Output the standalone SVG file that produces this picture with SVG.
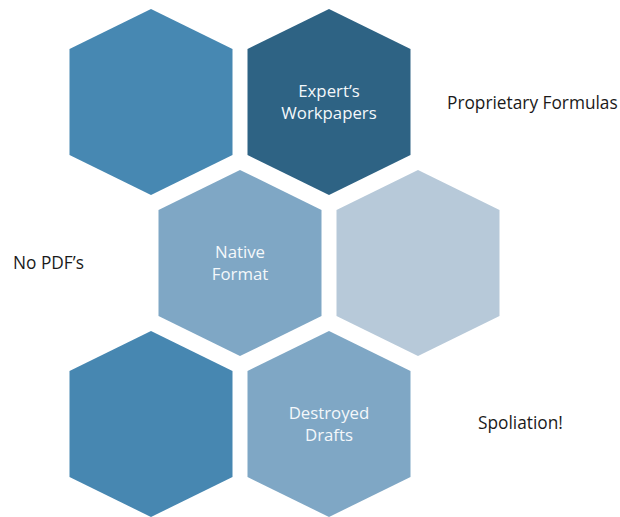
<svg xmlns="http://www.w3.org/2000/svg" width="620" height="517" viewBox="0 0 620 517">
<style>
.lbl{font-family:"Open Sans","Liberation Sans",sans-serif;font-size:16.8px;fill:#f4f8fb;text-anchor:middle}
.side{font-family:"Open Sans","Liberation Sans",sans-serif;font-size:17.3px;fill:#1a1a1a}
</style>
<defs>
<path id="hex" d="M0,0 L81.5,40 L81.5,146 L0,186 L-81.5,146 L-81.5,40 Z"/>
</defs>
<rect width="620" height="517" fill="#ffffff"/>
<g id="hex-top-left"><use href="#hex" x="151" y="9" fill="#4788b2"/></g>
<g id="hex-experts-workpapers"><use href="#hex" x="329" y="9" fill="#2e6384"/>
<text class="lbl" x="329" y="97">Expert’s</text><text class="lbl" x="329" y="119">Workpapers</text></g>
<g id="hex-native-format"><use href="#hex" x="240" y="170" fill="#7fa7c5"/>
<text class="lbl" x="240" y="258">Native</text><text class="lbl" x="240" y="280">Format</text></g>
<g id="hex-mid-right"><use href="#hex" x="418" y="170" fill="#b7c9d9"/></g>
<g id="hex-bottom-left"><use href="#hex" x="151" y="331" fill="#4787b1"/></g>
<g id="hex-destroyed-drafts"><use href="#hex" x="329" y="331" fill="#7fa7c5"/>
<text class="lbl" x="329" y="419">Destroyed</text><text class="lbl" x="329" y="441">Drafts</text></g>
<g id="label-proprietary"><text class="side" x="447" y="109">Proprietary Formulas</text></g>
<g id="label-nopdf"><text class="side" x="13" y="269">No PDF’s</text></g>
<g id="label-spoliation"><text class="side" x="478" y="429">Spoliation!</text></g>
<g id="connectors"/>
</svg>
